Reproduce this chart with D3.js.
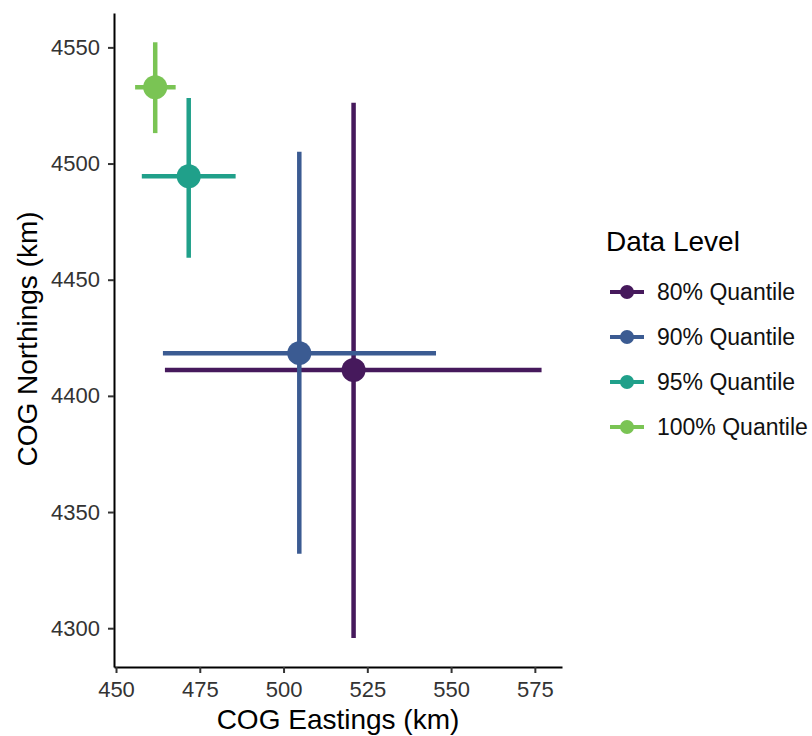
<!DOCTYPE html>
<html>
<head>
	<meta charset="utf-8">
	<title>COG quantiles</title>
	<script src="https://cdn.jsdelivr.net/npm/d3@7"></script>
</head>
<style type="text/css">
body { margin: 0; background: #ffffff; }
.tick line { stroke: #333333; stroke-width: 2; }
.domain { stroke: #000000; stroke-width: 2; }
</style>
<body>
<script type="text/javascript">
	var levels = ["80% Quantile", "90% Quantile", "95% Quantile", "100% Quantile"];
	var colors = ["#46195c", "#3b5b92", "#20a08a", "#7ac454"];
	var eastings = [520.9, 504.7, 471.7, 461.7];
	var eastLow = [464.6, 464.0, 457.7, 455.7];
	var eastHigh = [577.0, 545.5, 485.7, 467.8];
	var northings = [4411.1, 4418.4, 4494.5, 4532.8];
	var northLow = [4295.8, 4332.0, 4459.4, 4513.1];
	var northHigh = [4526.2, 4505.1, 4528.2, 4552.2];
	var xTicks = [450, 475, 500, 525, 550, 575];
	var yTicks = [4300, 4350, 4400, 4450, 4500, 4550];

	var w = 812;
	var h = 736;
	var margin = {top:13, left:114, right:250, bottom:69};
	var font = "'Liberation Sans', Arial, Helvetica, sans-serif";

	var svg = d3.select("body").append("svg").attr("width", w).attr("height", h)
		.attr("font-family", font);

	var x = d3.scaleLinear().domain([449.4, 583.1]).range([margin.left, w - margin.right]);
	var y = d3.scaleLinear().domain([4283.3, 4564.8]).range([h - margin.bottom, margin.top]);
	var color = d3.scaleOrdinal().domain(levels).range(colors);

	var data = levels.map(function(d, i){
		return {level: d, x: eastings[i], x0: eastLow[i], x1: eastHigh[i], y: northings[i], y0: northLow[i], y1: northHigh[i]};
	});

	// axes
	var gx = svg.append("g").attr("transform", "translate(0," + (h - margin.bottom) + ")")
		.call(d3.axisBottom(x).tickValues(xTicks).tickFormat(d3.format("d")).tickSize(6).tickPadding(8).tickSizeOuter(0));
	var gy = svg.append("g").attr("transform", "translate(" + margin.left + ",0)")
		.call(d3.axisLeft(y).tickValues(yTicks).tickFormat(d3.format("d")).tickSize(6).tickPadding(8).tickSizeOuter(0));
	[gx, gy].forEach(function(g){
		g.attr("font-size", 22).attr("font-family", font);
		g.selectAll(".tick text").attr("fill", "#333333");
	});

	svg.append("text").attr("x", 338).attr("y", 729).attr("text-anchor", "middle")
		.attr("font-size", 28).attr("fill", "#000").text("COG Eastings (km)");
	svg.append("text").attr("transform", "translate(37,339) rotate(-90)").attr("text-anchor", "middle")
		.attr("font-size", 28).attr("fill", "#000").text("COG Northings (km)");

	// error bars
	var marks = svg.append("g").selectAll("g").data(data).enter().append("g");
	marks.append("line")
		.attr("x1", function(d){return x(d.x0);}).attr("x2", function(d){return x(d.x1);})
		.attr("y1", function(d){return y(d.y);}).attr("y2", function(d){return y(d.y);})
		.attr("stroke", function(d){return color(d.level);}).attr("stroke-width", 4.5);
	marks.append("line")
		.attr("x1", function(d){return x(d.x);}).attr("x2", function(d){return x(d.x);})
		.attr("y1", function(d){return y(d.y0);}).attr("y2", function(d){return y(d.y1);})
		.attr("stroke", function(d){return color(d.level);}).attr("stroke-width", 4.5);
	marks.append("circle")
		.attr("cx", function(d){return x(d.x);}).attr("cy", function(d){return y(d.y);})
		.attr("r", 12).attr("fill", function(d){return color(d.level);});

	// legend
	var legend = svg.append("g").attr("transform", "translate(606,0)");
	legend.append("text").attr("x", 0).attr("y", 251).attr("font-size", 28).attr("fill", "#000").text("Data Level");
	var items = legend.selectAll("g.item").data(levels).enter().append("g").attr("class", "item")
		.attr("transform", function(d, i){return "translate(0," + (292 + i * 45) + ")";});
	items.append("line").attr("x1", 4).attr("x2", 38).attr("y1", 0).attr("y2", 0)
		.attr("stroke", function(d){return color(d);}).attr("stroke-width", 4);
	items.append("circle").attr("cx", 21).attr("cy", 0).attr("r", 7).attr("fill", function(d){return color(d);});
	items.append("text").attr("x", 51).attr("y", 8.3).attr("font-size", 23).attr("fill", "#111").text(function(d){return d;});
</script>
</body>
</html>
